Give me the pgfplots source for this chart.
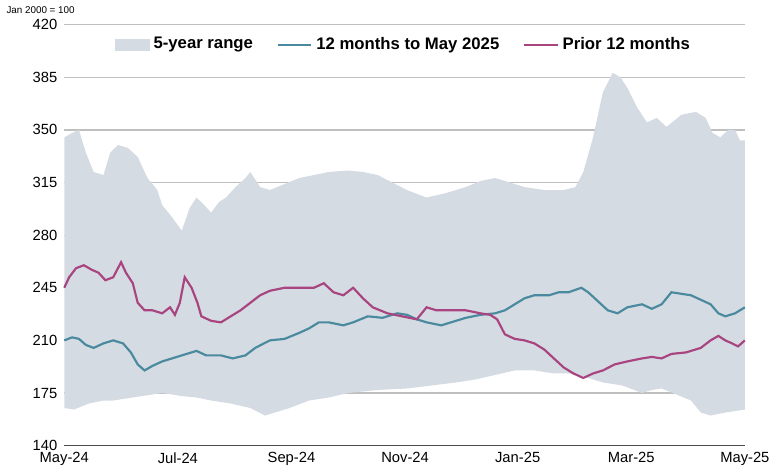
\documentclass[border=0pt]{standalone}
\usepackage{pgfplots}
\pgfplotsset{compat=1.18}
\usepgfplotslibrary{fillbetween}
\usepackage{fontspec}
\setmainfont{Liberation Sans}
\definecolor{rng}{HTML}{D5DBE3}
\definecolor{bl}{HTML}{4A8A9E}
\definecolor{mg}{HTML}{A8447F}
\begin{document}
\begin{tikzpicture}
\begin{axis}[
  scale only axis, width=346pt, height=214pt,
  xmin=50, xmax=745, ymin=140, ymax=420,
  xtick={50,166,282,398,513,629,745},
  xticklabels={May-24,Jul-24,Sep-24,Nov-24,Jan-25,Mar-25,May-25},
  ytick={140,175,210,245,280,315,350,385,420},
  axis lines*=left, y axis line style={draw=none}, x axis line style={black!70},
  ymajorgrids, grid style={gray!50, line width=0.6pt},
  tick style={draw=none},
  ticklabel style={font=\fontsize{7.5}{9}\selectfont},
  /pgf/number format/assume math mode=true,
  legend style={at={(0.5,0.99)}, anchor=north, draw=none, fill=none, legend columns=3,
    font=\fontsize{8.5}{10}\selectfont\bfseries, /tikz/every even column/.append style={column sep=10pt}},
  clip=false,
]
\addplot[draw=none, forget plot, name path=up] coordinates {
(50,345)(58,348)(65,350)(72,335)(80,322)(90,320)(97,335)(105,340)(115,338)(125,332)(135,318)(145,310)(150,300)(160,292)(170,283)(178,298)(185,305)(193,300)(200,295)(208,302)(215,305)(225,312)(235,318)(240,322)(250,312)(260,310)(275,314)(290,318)(305,320)(320,322)(340,323)(355,322)(370,320)(385,315)(400,310)(420,305)(440,308)(460,312)(475,316)(490,318)(505,315)(520,312)(540,310)(560,310)(572,312)(580,322)(590,345)(600,375)(610,388)(618,385)(625,378)(635,365)(645,355)(655,358)(665,352)(680,360)(695,362)(705,358)(712,348)(720,345)(728,350)(735,350)(740,343)(745,343)};
\addplot[draw=none, forget plot, name path=lo] coordinates {
(50,165)(60,164)(75,168)(90,170)(100,170)(120,172)(140,174)(150,175)(170,173)(185,172)(200,170)(220,168)(240,165)(255,160)(265,162)(280,165)(300,170)(320,172)(340,175)(370,177)(400,178)(425,180)(450,182)(470,184)(490,187)(510,190)(530,190)(550,188)(565,188)(580,186)(600,182)(620,180)(640,175)(650,177)(660,178)(675,174)(690,170)(700,162)(710,160)(725,162)(745,164)};
\addplot[rng, area legend] fill between[of=up and lo];
\addlegendentry{5-year range}
\addplot[bl, line width=1.1pt] coordinates {
(50,210)(58,212)(65,211)(72,207)(80,205)(90,208)(100,210)(110,208)(118,202)(125,194)(132,190)(140,193)(150,196)(160,198)(175,201)(185,203)(195,200)(210,200)(222,198)(235,200)(245,205)(260,210)(275,211)(290,215)(300,218)(310,222)(320,222)(335,220)(345,222)(360,226)(375,225)(390,228)(400,227)(410,224)(420,222)(435,220)(445,222)(460,225)(475,227)(490,228)(500,230)(510,234)(520,238)(530,240)(545,240)(555,242)(565,242)(578,245)(585,242)(595,236)(605,230)(615,228)(625,232)(640,234)(650,231)(660,234)(670,242)(680,241)(690,240)(700,237)(710,234)(718,228)(725,226)(735,228)(745,232)};
\addlegendentry{12 months to May 2025}
\addplot[mg, line width=1.1pt] coordinates {
(50,245)(55,252)(62,258)(70,260)(78,257)(85,255)(92,250)(100,252)(108,262)(113,255)(120,248)(125,235)(132,230)(140,230)(150,228)(158,232)(163,227)(168,235)(173,252)(180,245)(186,235)(190,226)(200,223)(210,222)(220,226)(230,230)(240,235)(250,240)(260,243)(275,245)(290,245)(305,245)(315,248)(325,242)(335,240)(345,245)(355,238)(365,232)(380,228)(395,226)(410,224)(420,232)(430,230)(445,230)(460,230)(475,228)(485,227)(492,224)(500,214)(510,211)(520,210)(530,208)(540,204)(550,198)(560,192)(570,188)(580,185)(590,188)(600,190)(612,194)(625,196)(640,198)(650,199)(660,198)(670,201)(685,202)(700,205)(710,210)(718,213)(725,210)(732,208)(738,206)(745,210)};
\addlegendentry{Prior 12 months}
\node[anchor=south west, font=\fontsize{5}{6}\selectfont] at (rel axis cs:-0.095,1.01) {Jan 2000 = 100};
\end{axis}
\end{tikzpicture}
\end{document}
